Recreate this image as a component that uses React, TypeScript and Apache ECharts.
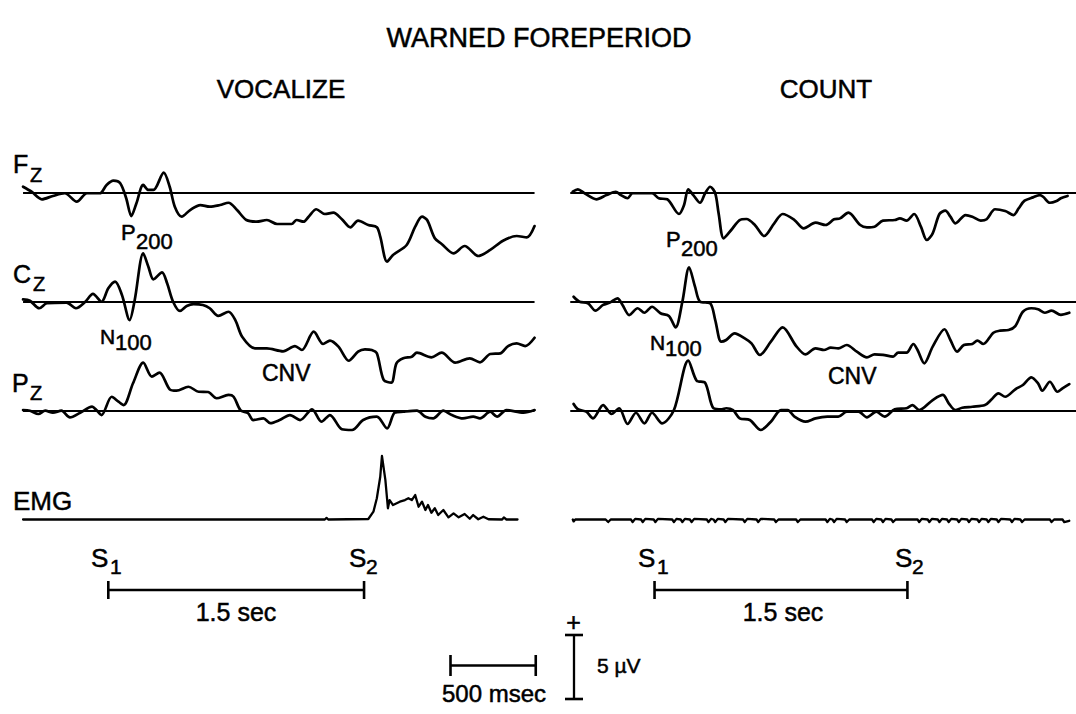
import React, { useEffect, useRef } from "react";
import * as echarts from "echarts";

// ---- Data: time (ms from S1) and amplitude (µV) ----
const fzVocalize: number[][] = [[-500,0.45],[-450,0.06],[-390,-0.53],[-325,-0.27],[-255,-0.06],[-185,-0.72],[-125,-0.06],[-50,-0.06],[-10,0.59],[30,0.92],[70,0.72],[105,-0.45],[135,-1.84],[165,-0.84],[205,0.59],[235,0.2],[265,0.2],[325,1.55],[360,0.45],[390,-1.11],[430,-1.89],[480,-1.37],[540,-0.98],[595,-1.11],[655,-0.98],[705,-0.8],[755,-1.37],[810,-2.15],[870,-2.28],[930,-2.15],[990,-2.46],[1075,-2.46],[1105,-2.15],[1145,-2.28],[1175,-1.89],[1220,-1.31],[1270,-1.68],[1320,-1.58],[1370,-2.09],[1420,-2.72],[1465,-2.2],[1525,-2.54],[1575,-2.72],[1595,-3.45],[1635,-5.4],[1670,-4.88],[1750,-4.1],[1800,-2.67],[1840,-1.89],[1870,-2.15],[1915,-3.58],[1955,-4.02],[2025,-4.75],[2090,-4.18],[2170,-4.96],[2240,-4.49],[2315,-3.77],[2395,-3.4],[2455,-3.5],[2500,-2.62]];
const czVocalize: number[][] = [[-500,0.21],[-460,0.1],[-405,-0.49],[-360,-0.1],[-245,-0.05],[-190,-0.49],[-135,0.02],[-90,0.63],[-40,0.02],[0,1.07],[40,1.59],[80,0.55],[125,-1.41],[155,0.16],[205,3.8],[235,2.76],[265,1.77],[315,2.32],[345,1.46],[380,0.02],[420,-0.7],[460,-0.31],[500,-0.16],[555,-0.23],[595,-0.49],[645,-1.09],[705,-0.76],[745,-1.41],[785,-2.71],[860,-3.62],[930,-3.62],[1025,-3.85],[1095,-3.44],[1135,-3.75],[1205,-2.32],[1260,-3.28],[1300,-3.02],[1350,-3.49],[1410,-4.59],[1465,-3.88],[1505,-3.7],[1545,-3.75],[1575,-4.01],[1615,-6.09],[1660,-6.3],[1690,-4.79],[1730,-4.4],[1780,-4.27],[1810,-3.96],[1895,-4.32],[1955,-3.96],[2035,-4.74],[2120,-4.4],[2180,-4.71],[2240,-4.06],[2300,-4.01],[2345,-3.44],[2395,-3.23],[2445,-3.44],[2500,-2.79]];
const pzVocalize: number[][] = [[-500,0.02],[-460,-0.03],[-410,-0.29],[-370,-0.03],[-325,-0.19],[-275,-0.03],[-225,-0.55],[-165,-0.19],[-95,0.28],[-70,0.02],[-40,-0.37],[20,1.06],[60,0.67],[90,0.41],[145,2.11],[205,3.72],[255,2.63],[300,2.94],[360,1.64],[400,1.53],[470,1.84],[530,1.45],[585,1.43],[635,0.94],[705,1.2],[735,1.06],[775,0.02],[820,-0.23],[850,-0.76],[910,-0.63],[950,-1.0],[1005,-0.76],[1065,-0.37],[1125,-0.76],[1195,0.08],[1250,-0.89],[1300,-0.37],[1370,-1.48],[1430,-1.54],[1495,-0.76],[1575,-0.5],[1635,-1.41],[1680,-0.19],[1730,-0.11],[1810,-0.03],[1860,-0.5],[1905,-0.63],[1965,-0.03],[2015,-0.37],[2080,-0.63],[2140,-0.5],[2180,-0.63],[2240,-0.11],[2280,-0.5],[2335,0.02],[2435,-0.19],[2500,0.02]];
const emgVocalize: number[][] = [[-500,0],[1270,0],[1280,0.12],[1290,0],[1525,0.04],[1555,0.61],[1575,1.66],[1595,3.34],[1605,4.96],[1625,3.09],[1640,0.88],[1650,1.52],[1670,1.13],[1710,1.39],[1740,1.52],[1760,1.66],[1780,1.52],[1800,1.91],[1820,1.0],[1840,1.39],[1860,0.74],[1875,1.13],[1895,0.53],[1915,0.88],[1935,0.35],[1965,0.74],[1995,0.17],[2025,0.48],[2055,0.17],[2090,0.43],[2120,0.06],[2140,0.35],[2170,0.02],[2200,0.22],[2230,0.02],[2310,0],[2320,0.16],[2335,0],[2400,0]];

const fzCount: number[][] = [[-485,0.06],[-455,0.25],[-415,-0.06],[-345,-0.53],[-285,-0.2],[-230,0.06],[-200,-0.2],[-160,-0.45],[-130,-0.06],[-15,-0.06],[25,-0.45],[75,-0.53],[145,-1.68],[175,-0.98],[200,0.25],[230,-0.2],[270,-0.8],[300,-0.06],[330,0.45],[360,-0.06],[380,-1.62],[410,-3.58],[455,-2.93],[505,-2.15],[545,-2.07],[595,-2.54],[650,-3.4],[710,-2.41],[760,-1.68],[830,-2.15],[885,-2.8],[955,-2.36],[1015,-2.54],[1065,-2.09],[1100,-2.02],[1150,-1.58],[1220,-2.54],[1260,-2.72],[1305,-2.67],[1355,-2.2],[1425,-2.15],[1455,-2.02],[1495,-2.2],[1540,-1.68],[1580,-2.67],[1615,-3.71],[1650,-3.19],[1690,-1.68],[1725,-1.42],[1755,-1.89],[1785,-2.41],[1845,-1.76],[1885,-1.89],[1935,-2.2],[1970,-2.09],[2020,-1.31],[2080,-1.45],[2130,-1.76],[2160,-1.23],[2195,-0.64],[2245,-0.38],[2285,-0.2],[2305,-0.33],[2345,-0.8],[2385,-0.66],[2410,-0.45],[2450,-0.27]];
const czCount: number[][] = [[-480,0.41],[-445,0.02],[-395,-0.1],[-350,-0.68],[-305,-0.23],[-265,-0.05],[-220,0.29],[-190,-0.23],[-150,-1.02],[-100,-0.49],[-60,-0.84],[-15,-0.37],[35,-0.88],[85,-1.09],[125,-1.98],[165,0.02],[205,2.71],[240,1.2],[270,0.02],[330,-0.1],[360,-1.41],[395,-3.1],[425,-2.97],[475,-2.45],[535,-2.84],[575,-3.23],[625,-4.14],[690,-3.1],[760,-1.98],[840,-3.44],[895,-4.09],[955,-3.62],[1005,-3.75],[1045,-3.57],[1090,-3.62],[1140,-3.36],[1200,-3.88],[1260,-4.32],[1305,-4.09],[1355,-4.13],[1415,-4.27],[1445,-3.96],[1495,-3.96],[1535,-3.28],[1560,-3.75],[1600,-4.79],[1650,-3.49],[1720,-2.13],[1755,-2.97],[1795,-3.88],[1835,-3.36],[1885,-3.28],[1915,-3.02],[1950,-3.28],[2010,-2.4],[2050,-2.24],[2100,-2.19],[2140,-1.88],[2185,-0.76],[2235,-0.49],[2275,-0.57],[2315,-0.84],[2355,-0.68],[2410,-1.0],[2460,-0.84]];
const pzCount: number[][] = [[-480,0.49],[-455,0.08],[-405,-0.11],[-365,-0.63],[-305,0.41],[-255,-0.29],[-210,0.16],[-160,-1.07],[-110,-0.19],[-60,-1.02],[-15,-0.19],[45,-1.02],[115,0.02],[200,3.88],[250,2.31],[300,2.16],[350,0.16],[400,0.08],[425,0.16],[465,0.02],[505,-0.63],[565,-0.76],[630,-1.54],[690,-0.89],[750,0.02],[790,0.02],[830,-0.5],[895,-0.89],[955,-0.63],[1025,-0.5],[1090,-0.5],[1140,-0.11],[1210,-0.11],[1260,-0.55],[1315,-0.11],[1365,-0.5],[1425,0.08],[1495,0.16],[1530,0.41],[1570,0.02],[1650,0.8],[1710,1.2],[1745,0.55],[1785,0.02],[1825,0.2],[1885,0.28],[1960,0.41],[2000,0.86],[2040,1.33],[2080,1.06],[2140,1.64],[2185,1.98],[2235,2.58],[2275,2.11],[2300,1.53],[2345,2.23],[2390,1.45],[2420,1.72],[2460,2.05]];
const emgCount: number[][] = [[-485,0],[-480,-0.15],[-470,0],[-290,0],[-275,-0.2],[-260,0],[-140,0],[-130,-0.2],[-115,0.05],[-80,0],[-70,-0.2],[-55,0.05],[-5,0],[5,-0.2],[20,0.05],[105,0],[115,-0.2],[130,0.05],[155,0],[165,-0.2],[180,0.05],[210,0],[220,-0.2],[235,0.05],[310,0],[320,-0.2],[335,0.05],[350,0],[360,-0.2],[375,0.05],[410,0],[420,-0.2],[435,0.05],[525,0],[535,-0.2],[550,0.05],[605,0],[615,-0.2],[630,0.05],[710,0],[720,-0.2],[735,0],[840,0],[850,-0.2],[865,0],[1015,0],[1025,-0.2],[1040,0.05],[1055,0],[1065,-0.2],[1080,0.05],[1130,0],[1140,-0.2],[1155,0],[1290,0],[1300,-0.2],[1315,0.05],[1345,0],[1355,-0.2],[1370,0.05],[1405,0],[1415,-0.2],[1430,0],[1560,0],[1570,-0.2],[1585,0.05],[1620,0],[1630,-0.2],[1645,0.05],[1680,0],[1690,-0.2],[1705,0.05],[1735,0],[1745,-0.2],[1760,0.05],[1795,0],[1805,-0.2],[1820,0.05],[1855,0],[1865,-0.2],[1880,0.05],[1915,0],[1925,-0.2],[1940,0.05],[1970,0],[1980,-0.2],[1995,0.05],[2030,0],[2040,-0.2],[2055,0.05],[2110,0],[2120,-0.2],[2135,0.05],[2170,0],[2180,-0.2],[2195,0],[2345,0],[2355,-0.2],[2370,0],[2420,0],[2430,-0.2],[2460,-0.1]];

const stimulusTimes = [0, 1500]; // S1, S2 (ms)
const timeScaleMs = [0, 500];
const voltScaleUv = [0, 5];

// ---- Layout constants ----
const PX_PER_MS = 0.1705;
const PX_PER_UV = 12.8;
const T_MIN = -500;
const T_MAX = 2500;
const V_HALF = 7;
const PANEL_S1_X = [108.3, 655.5];
const ROW_BASE_Y = [192.5, 302, 410.3, 519.5];
const FONT = '"Liberation Sans", Arial, Helvetica, sans-serif';

const traces = [
  [fzVocalize, czVocalize, pzVocalize, emgVocalize],
  [fzCount, czCount, pzCount, emgCount],
];

type Lbl = { t: string; x: number; y: number; s: number; a?: string };
const labels: Lbl[] = [
  { t: "WARNED FOREPERIOD", x: 539, y: 38, s: 27, a: "center" },
  { t: "VOCALIZE", x: 281, y: 89, s: 26, a: "center" },
  { t: "COUNT", x: 826, y: 89, s: 26, a: "center" },
  { t: "F", x: 13, y: 164, s: 25 }, { t: "Z", x: 30, y: 175, s: 20 },
  { t: "C", x: 13, y: 274, s: 25 }, { t: "Z", x: 33, y: 284, s: 20 },
  { t: "P", x: 12, y: 383, s: 25 }, { t: "Z", x: 30, y: 393, s: 20 },
  { t: "EMG", x: 13, y: 501, s: 26 },
  { t: "P", x: 121, y: 232.5, s: 22 }, { t: "200", x: 136, y: 241.5, s: 22 },
  { t: "N", x: 100, y: 336, s: 21 }, { t: "100", x: 115, y: 342.5, s: 22 },
  { t: "CNV", x: 262, y: 372.5, s: 23 },
  { t: "P", x: 666, y: 239.5, s: 22 }, { t: "200", x: 681, y: 248.5, s: 22 },
  { t: "N", x: 650, y: 342.5, s: 21 }, { t: "100", x: 665, y: 348.5, s: 22 },
  { t: "CNV", x: 828, y: 376, s: 23 },
  { t: "S", x: 91, y: 558, s: 26 }, { t: "1", x: 110, y: 566, s: 21 },
  { t: "S", x: 349, y: 558, s: 26 }, { t: "2", x: 366, y: 566, s: 21 },
  { t: "S", x: 638, y: 558, s: 26 }, { t: "1", x: 657, y: 566, s: 21 },
  { t: "S", x: 895, y: 558, s: 26 }, { t: "2", x: 912, y: 566, s: 21 },
  { t: "1.5 sec", x: 236, y: 611.5, s: 25, a: "center" },
  { t: "1.5 sec", x: 783, y: 611.5, s: 25, a: "center" },
  { t: "+", x: 573.5, y: 622, s: 25, a: "center" },
  { t: "500 msec", x: 494, y: 693, s: 24, a: "center" },
  { t: "5 \u00b5V", x: 597, y: 665, s: 21 },
];

export default function App() {
  const ref = useRef<HTMLDivElement>(null);
  useEffect(() => {
    if (!ref.current) return;
    const chart = echarts.init(ref.current, undefined, { renderer: "svg", width: 1076, height: 714 });
    const grid: any[] = [];
    const xAxis: any[] = [];
    const yAxis: any[] = [];
    const series: any[] = [];
    const black = "#000";
    const addGrid = (left: number, top: number, width: number, height: number, xmin: number, xmax: number, ymin: number, ymax: number) => {
      const i = grid.length;
      grid.push({ left, top, width, height, containLabel: false });
      xAxis.push({ gridIndex: i, type: "value", min: xmin, max: xmax, show: false });
      yAxis.push({ gridIndex: i, type: "value", min: ymin, max: ymax, show: false });
      return i;
    };
    const traceWidth = (T_MAX - T_MIN) * PX_PER_MS;
    traces.forEach((rows, p) => {
      const left = PANEL_S1_X[p] + T_MIN * PX_PER_MS;
      rows.forEach((data, r) => {
        const top = ROW_BASE_Y[r] - V_HALF * PX_PER_UV;
        const gi = addGrid(left, top, traceWidth, 2 * V_HALF * PX_PER_UV, T_MIN, T_MAX, -V_HALF, V_HALF);
        const s: any = {
          type: "line",
          xAxisIndex: gi,
          yAxisIndex: gi,
          data,
          symbol: "none",
          showSymbol: false,
          smooth: r < 3 ? 0.3 : false,
          lineStyle: { color: black, width: r < 3 ? 2.7 : 2.3, join: "round", cap: "round" },
          silent: true,
          clip: true,
        };
        if (r < 3) {
          s.markLine = {
            symbol: "none",
            silent: true,
            label: { show: false },
            lineStyle: { color: black, width: 2.2, type: "solid" },
            data: [{ yAxis: 0 }],
          };
        }
        series.push(s);
      });
      // S1 - S2 interval bar
      const gb = addGrid(left, 580, traceWidth, 20, T_MIN, T_MAX, -1, 1);
      series.push({
        type: "line", xAxisIndex: gb, yAxisIndex: gb,
        data: stimulusTimes.map((t) => [t, 0]),
        symbol: "rect", symbolSize: [2.6, 18], showSymbol: true,
        itemStyle: { color: black }, lineStyle: { color: black, width: 2.3 }, silent: true,
      });
    });
    // horizontal 500 ms scale bar
    const gh = addGrid(450.5, 655, 500 * PX_PER_MS, 21, 0, 500, -1, 1);
    series.push({
      type: "line", xAxisIndex: gh, yAxisIndex: gh,
      data: timeScaleMs.map((t) => [t, 0]),
      symbol: "rect", symbolSize: [2.6, 21], showSymbol: true,
      itemStyle: { color: black }, lineStyle: { color: black, width: 2.3 }, silent: true,
    });
    // vertical 5 µV scale bar
    const gv = addGrid(564, 635, 20, 5 * PX_PER_UV, -1, 1, 0, 5);
    series.push({
      type: "line", xAxisIndex: gv, yAxisIndex: gv,
      data: voltScaleUv.map((v) => [0, v]),
      symbol: "rect", symbolSize: [18, 2.6], showSymbol: true,
      itemStyle: { color: black }, lineStyle: { color: black, width: 2.3 }, silent: true,
    });

    const graphic = labels.map((l) => ({
      type: "text",
      x: l.x,
      y: l.y,
      silent: true,
      style: {
        text: l.t,
        fill: "#000",
        stroke: "#000",
        lineWidth: 0.5,
        fontSize: l.s,
        fontFamily: FONT,
        fontWeight: "normal",
        align: l.a || "left",
        textAlign: l.a || "left",
        verticalAlign: "middle",
        textVerticalAlign: "middle",
      },
    }));

    chart.setOption({
      animation: false,
      backgroundColor: "#fff",
      grid, xAxis, yAxis, series, graphic,
    });
    return () => chart.dispose();
  }, []);
  return (
    <div
      ref={ref}
      style={{ position: "absolute", left: 0, top: 0, width: 1076, height: 714, background: "#fff" }}
    />
  );
}
